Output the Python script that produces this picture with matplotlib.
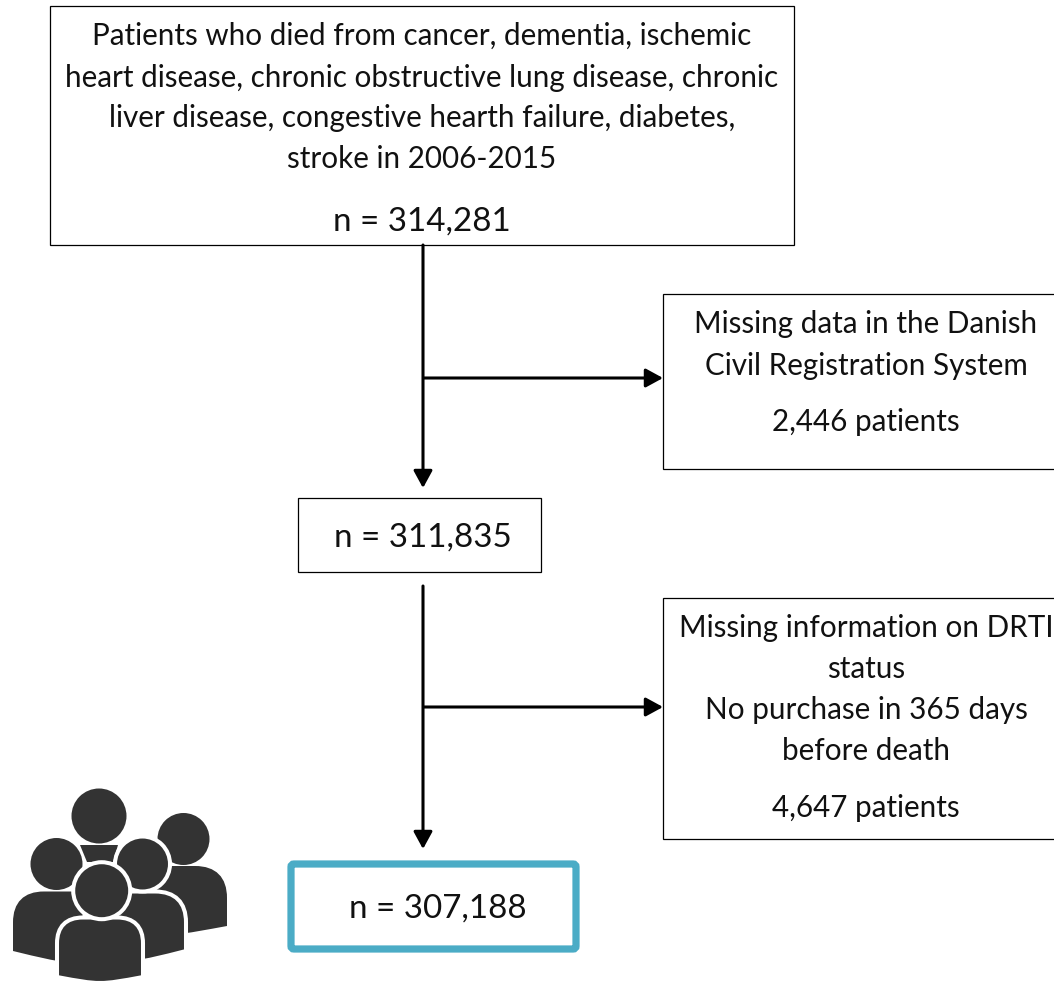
import matplotlib
matplotlib.use("Agg")
import matplotlib.pyplot as plt
from matplotlib.patches import Circle, FancyArrowPatch, FancyBboxPatch, PathPatch, Rectangle
from matplotlib.path import Path

plt.rcParams["font.family"] = ["Lato", "DejaVu Sans"]

# Text of the flow chart
start_lines = [
    "Patients who died from cancer, dementia, ischemic",
    "heart disease, chronic obstructive lung disease, chronic",
    "liver disease, congestive hearth failure, diabetes,",
    "stroke in 2006-2015",
]
start_count = 314281
civil_lines = ["Missing data in the Danish", "Civil Registration System"]
civil_excluded = 2446
middle_count = 311835
drti_lines = [
    "Missing information on DRTI",
    "status",
    "No purchase in 365 days",
    "before death",
]
drti_excluded = 4647
final_count = 307188

DARK = "#333333"
TEAL = "#4BACC6"
FS = 21.3
FS_N = 23.9

fig = plt.figure(figsize=(10.54, 9.81), dpi=100)
ax = fig.add_axes([0, 0, 1, 1])
ax.set_xlim(0, 1054)
ax.set_ylim(981, 0)
ax.axis("off")


def box(x0, y0, x1, y1):
    ax.add_patch(Rectangle((x0, y0), x1 - x0, y1 - y0, fc="white", ec="black", lw=0.9))


def arrow(start, end):
    ax.add_patch(FancyArrowPatch(start, end, arrowstyle="-|>,head_length=0.55,head_width=0.3",
                                 mutation_scale=19, lw=2.2, color="black",
                                 shrinkA=0, shrinkB=0, zorder=3))


def label(x, y, s, size=FS):
    ax.text(x, y, s, ha="center", va="center", fontsize=size, color="#111111")


def body(x0, x1, top, r, low_l, low_m, low_r, halo=False):
    # rounded shoulders with a slightly sagging lower edge
    mid = (x0 + x1) / 2
    verts = [
        (x0, low_l), (x0, top + r),
        (x0, top + r * 0.35), (x0 + r * 0.35, top), (x0 + r, top),
        (x1 - r, top),
        (x1 - r * 0.35, top), (x1, top + r * 0.35), (x1, top + r),
        (x1, low_r),
        (mid, low_m), (mid, low_m), (x0, low_l),
        (x0, low_l),
    ]
    codes = [Path.MOVETO, Path.LINETO,
             Path.CURVE4, Path.CURVE4, Path.CURVE4,
             Path.LINETO,
             Path.CURVE4, Path.CURVE4, Path.CURVE4,
             Path.LINETO,
             Path.CURVE4, Path.CURVE4, Path.CURVE4,
             Path.CLOSEPOLY]
    ax.add_patch(PathPatch(Path(verts, codes), fc=DARK,
                           ec="white" if halo else "none", lw=2.9 if halo else 0))


def head(x, y, r, halo=False):
    ax.add_patch(Circle((x, y), r, fc=DARK, ec="white" if halo else "none",
                        lw=2.9 if halo else 0))


box(50, 6, 794, 245)
box(663, 294, 1060, 469)
box(298, 498, 541, 572)
box(663, 598, 1060, 839)
ax.add_patch(FancyBboxPatch((291, 864), 285, 85, boxstyle="round,pad=0,rounding_size=3",
                            fc="white", ec=TEAL, lw=5.2))

arrow((423, 245), (423, 488))
arrow((424, 378), (663, 378))
arrow((423, 586), (423, 849))
arrow((424, 707), (663, 707))

for y, s in zip([35.5, 77.5, 117.5, 158.5], start_lines):
    label(422, y, s)
label(422, 222, f"n = {start_count:,}", FS_N)

for y, s in zip([324.5, 365.5], civil_lines):
    label(866, y, s)
label(866, 422.5, f"{civil_excluded:,} patients")

label(423, 538, f"n = {middle_count:,}", FS_N)

for y, s in zip([628.5, 669.5, 710.5, 751.5], drti_lines):
    label(866, y, s)
label(866, 808.5, f"{drti_excluded:,} patients")

label(437.5, 909, f"n = {final_count:,}", FS_N)

# People icon, back to front
head(183.5, 839, 26)
body(140, 227, 866, 32, 938, 934, 926)
head(99, 816, 27.5)
ax.add_patch(PathPatch(Path([(80, 845), (118, 845), (113, 862), (87, 862), (80, 845)],
                            [Path.MOVETO, Path.LINETO, Path.LINETO, Path.LINETO, Path.CLOSEPOLY]),
                       fc=DARK, ec="none"))
body(13, 120, 891.5, 31, 951, 964, 962)
body(84, 186, 891.5, 31, 962, 964, 951, halo=True)
head(56.5, 864, 26)
head(142.5, 864, 27.5, halo=True)
body(57, 143, 917.5, 26, 977, 985, 977, halo=True)
head(101.7, 890.7, 28.5, halo=True)

fig.savefig("out.png", dpi=100)
